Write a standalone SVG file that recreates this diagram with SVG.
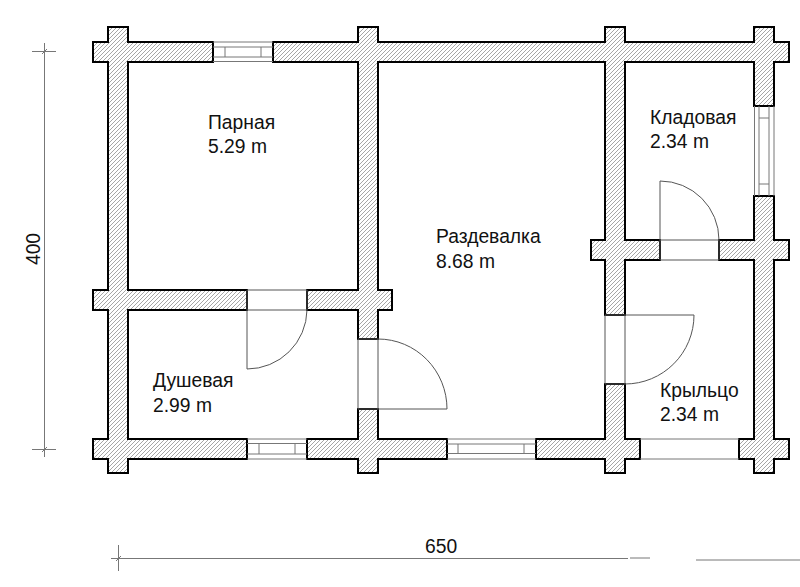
<svg xmlns="http://www.w3.org/2000/svg" width="800" height="587" viewBox="0 0 800 587">
<style>
.wall{fill:url(#hatch);stroke:#000;stroke-width:2;stroke-linejoin:miter}
.thin{fill:none;stroke:#555;stroke-width:1}
.win{fill:none;stroke:#777;stroke-width:1}
.dim{fill:none;stroke:#777;stroke-width:1}
text{font-family:"Liberation Sans",Arial,sans-serif;font-size:19.3px;fill:#111}
</style>
<defs>
<pattern id="hatch" width="4" height="4" patternUnits="userSpaceOnUse">
<rect width="4" height="4" fill="#fff"/>
<path d="M-1 5L5 -1M-1 1L1 -1M3 5L5 3" stroke="#808080" stroke-width="0.7" fill="none"/>
</pattern>
</defs>
<rect width="800" height="587" fill="#fff"/>
<g id="walls">
<path class="wall" d="M108 27H128V42H213V62H128V290H247V310H128V439H247V459H128V473H108V459H93V439H108V310H93V290H108V62H93V42H108Z"/>
<path class="wall" d="M273 42H358V27H378V42H605V27H625V42H754V27H774V42H789V62H774V106H754V62H625V240H660V260H625V315H605V260H591V240H605V62H378V290H392V310H378V339H358V310H307V290H358V62H273Z"/>
<path class="wall" d="M307 439H358V409H378V439H447V459H378V473H358V459H307Z"/>
<path class="wall" d="M536 439H605V384H625V439H640V459H625V473H605V459H536Z"/>
<path class="wall" d="M754 196H774V240H789V260H774V439H789V459H774V473H754V459H739V439H754V260H719V240H754Z"/>
</g>
<g id="windows">
<path class="win" d="M213 42H273M213 61.500H273M213 47H273M213 57H273M225 47V57M261 47V57"/>
<path class="win" d="M247 439H307M247 459H307M247 443.500H307M247 454H307M259 443.500V454M295 443.500V454"/>
<path class="win" d="M447 439H536M447 459H536M447 444H536M447 453.500H536M458 444V453.500M524 444V453.500"/>
<path class="win" d="M754.500 106V196M774 106V196M759 106V196M769 106V196M759 118H769M759 184H769"/>
</g>
<g id="doors">
<path class="thin" d="M660 260V181A59 59 0 0 1 719 240V260M660 240H719M660 260H719"/>
<path class="thin" d="M247 290V369A60 60 0 0 0 307 310V290M247 290H307M247 310H307"/>
<path class="thin" d="M358 339V409M378 339A69 70 0 0 1 447 409H358M378 339V409M358 339H378"/>
<path class="thin" d="M605 315V384M625 315V384M605 315H694A69 69 0 0 1 625 384H605"/>
<path class="win" d="M640 439H739M640 459H739"/>
</g>
<g id="dimensions">
<path class="dim" d="M44.500 43V457M32 51.500H56M32 449.500H56M42 54L47 49M42 452L47 447"/>
<path class="dim" d="M118.500 545V571M111 558.500H628M630 558H650M696 560H800M116 561L121 556"/>
<text transform="translate(40 249) rotate(-90)" text-anchor="middle">400</text>
<text x="425" y="553">650</text>
</g>
<g id="labels">
<text x="208" y="129">Парная</text><text x="208" y="153">5.29 m</text>
<text x="650" y="124">Кладовая</text><text x="650" y="148">2.34 m</text>
<text x="436" y="243">Раздевалка</text><text x="436" y="268">8.68 m</text>
<text x="153" y="387">Душевая</text><text x="153" y="412">2.99 m</text>
<text x="660" y="397">Крыльцо</text><text x="660" y="421">2.34 m</text>
</g>
</svg>
